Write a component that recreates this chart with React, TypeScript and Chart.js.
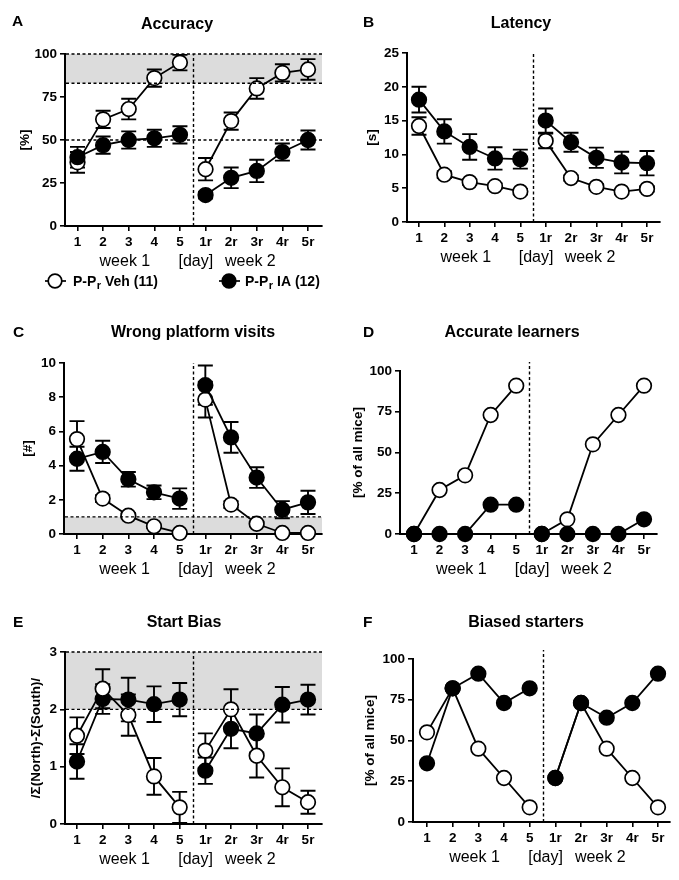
import React, { useEffect, useRef } from 'react';
import { Chart, registerables } from 'chart.js';
Chart.register(...registerables);

const FONT = '"Liberation Sans", Arial, Helvetica, sans-serif';

// ---------- data ----------
const dayLabels = ['1', '2', '3', '4', '5', '1r', '2r', '3r', '4r', '5r'];
const weekLabels = ['week 1', '[day]', 'week 2'];
const legendPrefix = 'P-P';
const legendSub = 'r';
const legendVeh = 'Veh (11)';
const legendIA = 'IA (12)';

// A: Accuracy [%]
const accVeh = [37, 62, 68, 86, 95, 33, 61, 80, 89, 91];
const accVehErr = [6, 5, 6, 5, 4.5, 6.5, 5, 6, 5, 6];
const accIA = [40, 47, 50, 51, 53, 18, 28, 32, 43, 50];
const accIAErr = [6, 5, 5, 5, 5, 2, 6, 6.5, 5, 5.5];

// B: Latency [s]
const latVeh = [14.2, 7.0, 5.9, 5.3, 4.5, 12.0, 6.5, 5.2, 4.5, 4.9];
const latVehErr = [1.3, 0.5, 0.4, 0.4, 0.4, 1.1, 0.4, 0.4, 0.3, 0.4];
const latIA = [18.1, 13.4, 11.1, 9.4, 9.3, 15.0, 11.8, 9.5, 8.8, 8.7];
const latIAErr = [1.9, 1.8, 1.9, 1.65, 1.4, 1.8, 1.4, 1.5, 1.6, 1.8];

// C: Wrong platform visits [#]
const wpVeh = [5.55, 2.07, 1.07, 0.45, 0.06, 7.86, 1.72, 0.6, 0.06, 0.06];
const wpVehErr = [1.05, 0.2, 0.15, 0.1, 0.05, 1.05, 0.2, 0.1, 0.05, 0.05];
const wpIA = [4.4, 4.8, 3.2, 2.44, 2.07, 8.7, 5.65, 3.3, 1.42, 1.85];
const wpIAErr = [0.7, 0.65, 0.43, 0.4, 0.6, 1.15, 0.9, 0.6, 0.5, 0.68];

// D: Accurate learners [% of all mice]
const alVeh = [0, 27, 36, 73, 91, 0, 9, 55, 73, 91];
const alIA = [0, 0, 0, 18, 18, 0, 0, 0, 0, 9];

// E: Start bias
const sbVeh = [1.54, 2.36, 1.9, 0.83, 0.29, 1.28, 2.0, 1.19, 0.64, 0.38];
const sbVehErr = [0.32, 0.34, 0.36, 0.32, 0.27, 0.3, 0.35, 0.38, 0.33, 0.2];
const sbIA = [1.09, 2.18, 2.17, 2.09, 2.17, 0.93, 1.66, 1.58, 2.08, 2.17];
const sbIAErr = [0.3, 0.26, 0.38, 0.31, 0.29, 0.23, 0.34, 0.33, 0.31, 0.26];

// F: Biased starters [% of all mice]
const bsVeh = [55, 82, 45, 27, 9, 27, 73, 45, 27, 9];
const bsIA = [36, 82, 91, 73, 82, 27, 73, 64, 73, 91];

// ---------- panel layout ----------
type PanelCfg = {
  letter: string;
  title: string;
  yTitle: string;
  box: [number, number, number, number];
  plot: [number, number, number, number];
  tickFirst: number;
  tickLast: number;
  yMax: number;
  yStep: number;
  veh: number[];
  vehErr?: number[];
  ia: number[];
  iaErr?: number[];
  bands: [number, number][];
  dashes: number[];
  dividerExtra: number;
  titleX: number;
  titleY: number;
  letterX: number;
  letterY: number;
  yTitleX: number;
  vehOnTop?: boolean;
  legend?: boolean;
};

const panels: PanelCfg[] = [
  {
    letter: 'A', title: 'Accuracy', yTitle: '[%]',
    box: [0, 0, 340, 295], plot: [65, 54, 322, 226], tickFirst: 77.5, tickLast: 308,
    yMax: 100, yStep: 25, veh: accVeh, vehErr: accVehErr, ia: accIA, iaErr: accIAErr,
    bands: [[83, 100]], dashes: [50, 83, 100], dividerExtra: 0,
    titleX: 177, titleY: 28.5, letterX: 12, letterY: 26, yTitleX: 25, legend: true,
  },
  {
    letter: 'B', title: 'Latency', yTitle: '[s]',
    box: [340, 0, 339, 295], plot: [407, 53, 660, 222], tickFirst: 419, tickLast: 647,
    yMax: 25, yStep: 5, veh: latVeh, vehErr: latVehErr, ia: latIA, iaErr: latIAErr,
    bands: [], dashes: [], dividerExtra: 1,
    titleX: 521, titleY: 27.5, letterX: 363, letterY: 26.5, yTitleX: 372,
  },
  {
    letter: 'C', title: 'Wrong platform visits', yTitle: '[#]',
    box: [0, 295, 340, 290], plot: [64, 363, 322, 534], tickFirst: 77, tickLast: 308,
    yMax: 10, yStep: 2, veh: wpVeh, vehErr: wpVehErr, ia: wpIA, iaErr: wpIAErr,
    bands: [[0, 1]], dashes: [1], dividerExtra: 0,
    titleX: 193, titleY: 336.5, letterX: 13, letterY: 336.5, yTitleX: 28,
  },
  {
    letter: 'D', title: 'Accurate learners', yTitle: '[% of all mice]',
    box: [340, 295, 339, 290], plot: [400, 371, 657, 534], tickFirst: 414, tickLast: 644,
    yMax: 100, yStep: 25, veh: alVeh, ia: alIA,
    bands: [], dashes: [], dividerExtra: 9,
    titleX: 512, titleY: 336.5, letterX: 363, letterY: 336.5, yTitleX: 358,
  },
  {
    letter: 'E', title: 'Start Bias', yTitle: '/\u03A3(North)-\u03A3(South)/',
    box: [0, 585, 340, 295], plot: [65, 652, 322, 824], tickFirst: 77, tickLast: 308,
    yMax: 3, yStep: 1, veh: sbVeh, vehErr: sbVehErr, ia: sbIA, iaErr: sbIAErr,
    bands: [[2, 3]], dashes: [2, 3], dividerExtra: 0,
    titleX: 184, titleY: 626.5, letterX: 13, letterY: 626.5, yTitleX: 36, vehOnTop: true,
  },
  {
    letter: 'F', title: 'Biased starters', yTitle: '[% of all mice]',
    box: [340, 585, 339, 295], plot: [413, 659, 670, 822], tickFirst: 427, tickLast: 658,
    yMax: 100, yStep: 25, veh: bsVeh, ia: bsIA,
    bands: [], dashes: [], dividerExtra: 9,
    titleX: 526, titleY: 626.5, letterX: 363, letterY: 626.5, yTitleX: 370,
  },
];

const TICK_FONT = { family: FONT, size: 13.5, weight: 'bold' as const };
const R = 7.3;

function drawErrors(chart: any, values: number[], errs: number[] | undefined) {
  if (!errs) return;
  const { ctx, scales } = chart;
  const x = scales.x, y = scales.y;
  ctx.save();
  ctx.strokeStyle = '#000';
  ctx.lineWidth = 1.9;
  ctx.setLineDash([]);
  const cap = 7.5;
  values.forEach((v, i) => {
    const e = errs[i];
    if (!e) return;
    const px = x.getPixelForValue(i + 1);
    const t = y.getPixelForValue(v + e);
    const b = y.getPixelForValue(Math.max(v - e, 0));
    ctx.beginPath();
    ctx.moveTo(px, t); ctx.lineTo(px, b);
    ctx.moveTo(px - cap, t); ctx.lineTo(px + cap, t);
    ctx.moveTo(px - cap, b); ctx.lineTo(px + cap, b);
    ctx.stroke();
  });
  ctx.restore();
}

function drawLegendItem(ctx: CanvasRenderingContext2D, cx: number, cy: number, filled: boolean, tx: number, base: number, name: string) {
  ctx.save();
  ctx.strokeStyle = '#000';
  ctx.lineWidth = 1.7;
  ctx.beginPath(); ctx.moveTo(cx - 10, cy); ctx.lineTo(cx + 11, cy); ctx.stroke();
  ctx.beginPath(); ctx.arc(cx, cy, 6.8, 0, Math.PI * 2);
  ctx.fillStyle = filled ? '#000' : '#fff';
  ctx.fill(); ctx.stroke();
  ctx.fillStyle = '#000';
  ctx.textAlign = 'left';
  ctx.textBaseline = 'alphabetic';
  ctx.font = `bold 14px ${FONT}`;
  let x = tx;
  ctx.fillText(legendPrefix, x, base);
  x += ctx.measureText(legendPrefix).width + 0.5;
  ctx.font = `bold 11px ${FONT}`;
  ctx.fillText(legendSub, x, base + 3);
  x += ctx.measureText(legendSub).width;
  ctx.font = `bold 14px ${FONT}`;
  ctx.fillText(' ' + name, x, base);
  ctx.restore();
}

function PanelChart({ cfg }: { cfg: PanelCfg }) {
  const ref = useRef<HTMLCanvasElement>(null);
  useEffect(() => {
    if (!ref.current) return;
    const [bl, bt, bw, bh] = cfg.box;
    const [pl, pt, pr, pb] = cfg.plot;
    const s = (cfg.tickLast - cfg.tickFirst) / 9;
    const xMin = 1 - (cfg.tickFirst - pl) / s;
    const xMax = 10 + (pr - cfg.tickLast) / s;
    const padLeft = cfg.yTitleX - bl - 0.6 * 13.5;
    const yW = pl - bl - padLeft;
    const xH = bt + bh - pb;

    const mk = (label: string, vals: number[], filled: boolean) => ({
      label,
      data: vals.map((v, i) => ({ x: i + 1, y: v })),
      borderColor: '#000',
      borderWidth: 1.8,
      pointRadius: R,
      pointHoverRadius: R,
      pointBorderWidth: 1.7,
      pointBackgroundColor: filled ? '#000' : '#fff',
      pointBorderColor: '#000',
      backgroundColor: filled ? '#000' : '#fff',
      fill: false,
      tension: 0,
      clip: false as const,
      segment: {
        borderColor: (c: any) => (c.p0DataIndex === 4 ? 'rgba(0,0,0,0)' : '#000'),
      },
    });
    const dVeh = mk(legendPrefix + legendSub + ' ' + legendVeh, cfg.veh, false);
    const dIA = mk(legendPrefix + legendSub + ' ' + legendIA, cfg.ia, true);
    const datasets = cfg.vehOnTop ? [dVeh, dIA] : [dIA, dVeh];

    const deco = {
      id: 'deco',
      beforeDraw(chart: any) {
        const { ctx, chartArea: ca, scales } = chart;
        ctx.save();
        ctx.fillStyle = '#dcdcdc';
        for (const [a, b] of cfg.bands) {
          const y1 = scales.y.getPixelForValue(b);
          const y2 = scales.y.getPixelForValue(a);
          ctx.fillRect(ca.left, y1, ca.right - ca.left, y2 - y1);
        }
        ctx.restore();
      },
      beforeDatasetsDraw(chart: any) {
        const { ctx, chartArea: ca, scales } = chart;
        ctx.save();
        ctx.strokeStyle = '#000';
        ctx.lineWidth = 1.4;
        ctx.setLineDash([3, 2.5]);
        const dx = Math.round(scales.x.getPixelForValue(5.5)) + 0.5;
        ctx.beginPath();
        ctx.moveTo(dx, ca.bottom);
        ctx.lineTo(dx, ca.top - cfg.dividerExtra);
        ctx.stroke();
        ctx.restore();
        drawErrors(chart, cfg.veh, cfg.vehErr);
        drawErrors(chart, cfg.ia, cfg.iaErr);
      },
      afterDatasetsDraw(chart: any) {
        const { ctx, chartArea: ca, scales } = chart;
        ctx.save();
        ctx.strokeStyle = '#000';
        ctx.lineWidth = 1.4;
        ctx.setLineDash([3, 2.5]);
        for (const v of cfg.dashes) {
          const yy = scales.y.getPixelForValue(v);
          ctx.beginPath();
          ctx.moveTo(ca.left + 1, yy);
          ctx.lineTo(ca.right, yy);
          ctx.stroke();
        }
        ctx.restore();
      },
      afterDraw(chart: any) {
        const { ctx, scales } = chart;
        ctx.save();
        ctx.fillStyle = '#000';
        ctx.textBaseline = 'alphabetic';
        ctx.font = `bold 15.5px ${FONT}`;
        ctx.textAlign = 'left';
        ctx.fillText(cfg.letter, cfg.letterX - bl, cfg.letterY - bt);
        ctx.font = `bold 16px ${FONT}`;
        ctx.textAlign = 'center';
        ctx.fillText(cfg.title, cfg.titleX - bl, cfg.titleY - bt);
        ctx.font = `16px ${FONT}`;
        const wy = pb - bt + 40;
        const wx = [2.85, 5.62, 7.75];
        weekLabels.forEach((t, i) => {
          ctx.fillText(t, scales.x.getPixelForValue(wx[i]), wy);
        });
        ctx.restore();
        if (cfg.legend) {
          drawLegendItem(ctx, 55 - bl, 281 - bt, false, 73 - bl, 285.5 - bt, legendVeh);
          drawLegendItem(ctx, 229 - bl, 281 - bt, true, 245 - bl, 285.5 - bt, legendIA);
        }
      },
    };

    const axisGrid = { drawOnChartArea: false, drawTicks: true, tickLength: 5, color: '#000', lineWidth: 1.6 };
    const axisBorder = { display: true, color: '#000', width: 2 };

    const chart = new Chart(ref.current, {
      type: 'line',
      data: { datasets: datasets as any },
      options: {
        animation: false,
        responsive: false,
        maintainAspectRatio: false,
        events: [],
        layout: { padding: { left: padLeft, top: pt - bt, right: bl + bw - pr, bottom: 0 } },
        plugins: { legend: { display: false }, tooltip: { enabled: false }, title: { display: false } },
        scales: {
          x: {
            type: 'linear',
            min: xMin,
            max: xMax,
            afterBuildTicks: (sc: any) => { sc.ticks = dayLabels.map((_, i) => ({ value: i + 1 })); },
            afterFit: (sc: any) => { sc.height = xH; },
            ticks: {
              autoSkip: false, maxRotation: 0, minRotation: 0,
              callback: (_v: any, i: number) => dayLabels[i] ?? '',
              font: TICK_FONT, color: '#000', padding: 3.5,
            },
            grid: axisGrid,
            border: axisBorder,
          },
          y: {
            type: 'linear',
            min: 0,
            max: cfg.yMax,
            afterFit: (sc: any) => { sc.width = yW; },
            ticks: { stepSize: cfg.yStep, font: TICK_FONT, color: '#000', padding: 3 },
            grid: axisGrid,
            border: axisBorder,
            title: { display: true, text: cfg.yTitle, font: { family: FONT, size: 13.5, weight: 'bold' }, color: '#000', padding: 0 },
          },
        },
      } as any,
      plugins: [deco],
    });
    return () => chart.destroy();
  }, [cfg]);

  const [bl, bt, bw, bh] = cfg.box;
  return (
    <canvas
      ref={ref}
      width={bw}
      height={bh}
      style={{ position: 'absolute', left: bl, top: bt, width: bw, height: bh }}
    />
  );
}

export default function App() {
  return (
    <div style={{ position: 'absolute', left: 0, top: 0, width: 679, height: 880, background: '#fff', overflow: 'hidden' }}>
      {panels.map((p) => (
        <PanelChart key={p.letter} cfg={p} />
      ))}
    </div>
  );
}
